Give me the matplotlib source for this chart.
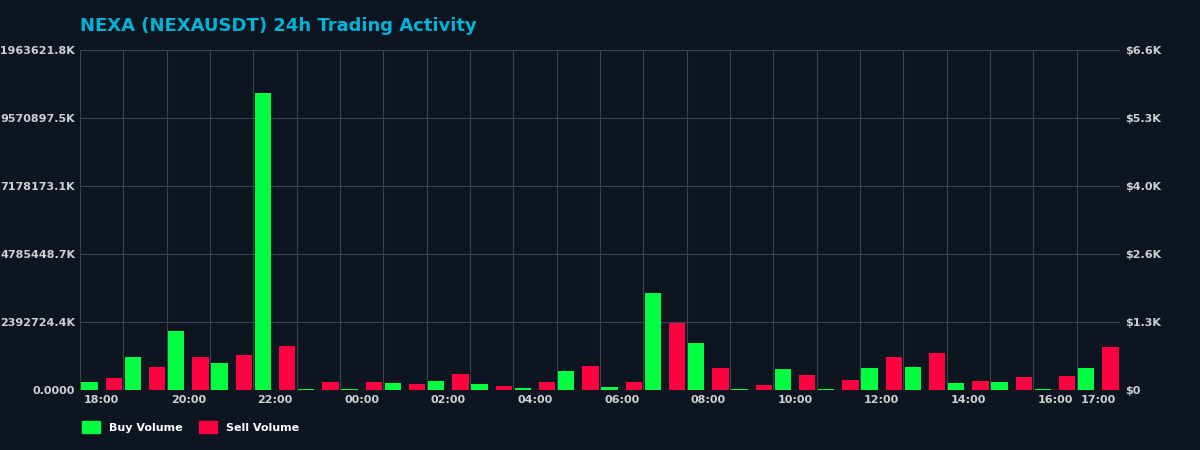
import matplotlib
matplotlib.use("Agg")
import matplotlib.pyplot as plt
import numpy as np
from matplotlib.patches import Patch

hours = ["18:00","19:00","20:00","21:00","22:00","23:00","00:00","01:00","02:00","03:00","04:00","05:00",
         "06:00","07:00","08:00","09:00","10:00","11:00","12:00","13:00","14:00","15:00","16:00","17:00"]
buy_k = [281500, 1161200, 2076000, 950100, 10450600, 35200, 35200, 246300, 316700, 211100, 70400, 668600,
         105600, 3413100, 1653800, 35200, 738900, 17600, 774100, 809300, 246300, 281500, 35200, 774100]
sell_k = [422200, 809300, 1161200, 1231500, 1548200, 281500, 281500, 211100, 563000, 140700, 281500, 844500,
          281500, 2357500, 774100, 175900, 527800, 351900, 1161200, 1301900, 316700, 457400, 492600, 1513000]
left_ticks = [0, 2392724.4, 4785448.7, 7178173.1, 9570897.5, 11963621.8]
right_labels = ["$0", "$1.3K", "$2.6K", "$4.0K", "$5.3K", "$6.6K"]
tick_labels = ["18:00","20:00","22:00","00:00","02:00","04:00","06:00","08:00","10:00","12:00","14:00","16:00","17:00"]

bg = "#0d1520"
buy_c = "#00ff41"
sell_c = "#ff0040"
fig = plt.figure(figsize=(12, 4.5), dpi=100, facecolor=bg)
ax = fig.add_axes([80/1200, 60/450, 1040/1200, 340/450], facecolor=bg)
x = np.arange(len(hours))
w = 0.38
ax.bar(x - 0.28, buy_k, w, color=buy_c, zorder=3)
ax.bar(x + 0.28, sell_k, w, color=sell_c, zorder=3)
ax.set_xlim(-0.5, len(hours) - 0.5)
ax.set_ylim(0, left_ticks[-1])
ax.set_yticks(left_ticks)
ax.set_yticklabels(["0.0000"] + [f"{v:.1f}K" for v in left_ticks[1:]])
idx = [hours.index(t) for t in tick_labels]
ax.set_xticks(idx)
ax.set_xticklabels(tick_labels)
ax.set_xticks(np.arange(len(hours)) - 0.5, minor=True)
ax.grid(True, axis="y", color="#3a4450", linewidth=0.8, zorder=0)
ax.grid(True, axis="x", which="minor", color="#3a4450", linewidth=0.8, zorder=0)
for s in ax.spines.values():
    s.set_visible(False)
ax.tick_params(colors="#d0d0d0", labelsize=8, length=0)
ax.tick_params(which="minor", length=0)
for lab in ax.get_xticklabels() + ax.get_yticklabels():
    lab.set_fontweight("bold")
ax2 = ax.twinx()
ax2.set_ylim(0, 6.6)
ax2.set_yticks(np.linspace(0, 6.6, 6))
ax2.set_yticklabels(right_labels)
ax2.tick_params(colors="#d0d0d0", labelsize=8, length=0)
for lab in ax2.get_yticklabels():
    lab.set_fontweight("bold")
for s in ax2.spines.values():
    s.set_visible(False)
fig.text(80/1200, 1 - 26/450, "NEXA (NEXAUSDT) 24h Trading Activity", color="#00b4d8",
         fontsize=13, fontweight="bold", va="center")
fig.legend(handles=[Patch(color=buy_c, label="Buy Volume"), Patch(color=sell_c, label="Sell Volume")],
           loc="center left", bbox_to_anchor=(72/1200, 1 - 427/450), ncol=2, frameon=False,
           labelcolor="white", prop={"size": 8, "weight": "bold"}, handlelength=1.6, handleheight=1.2,
           columnspacing=1.5)
fig.savefig("out.png", facecolor=bg)
